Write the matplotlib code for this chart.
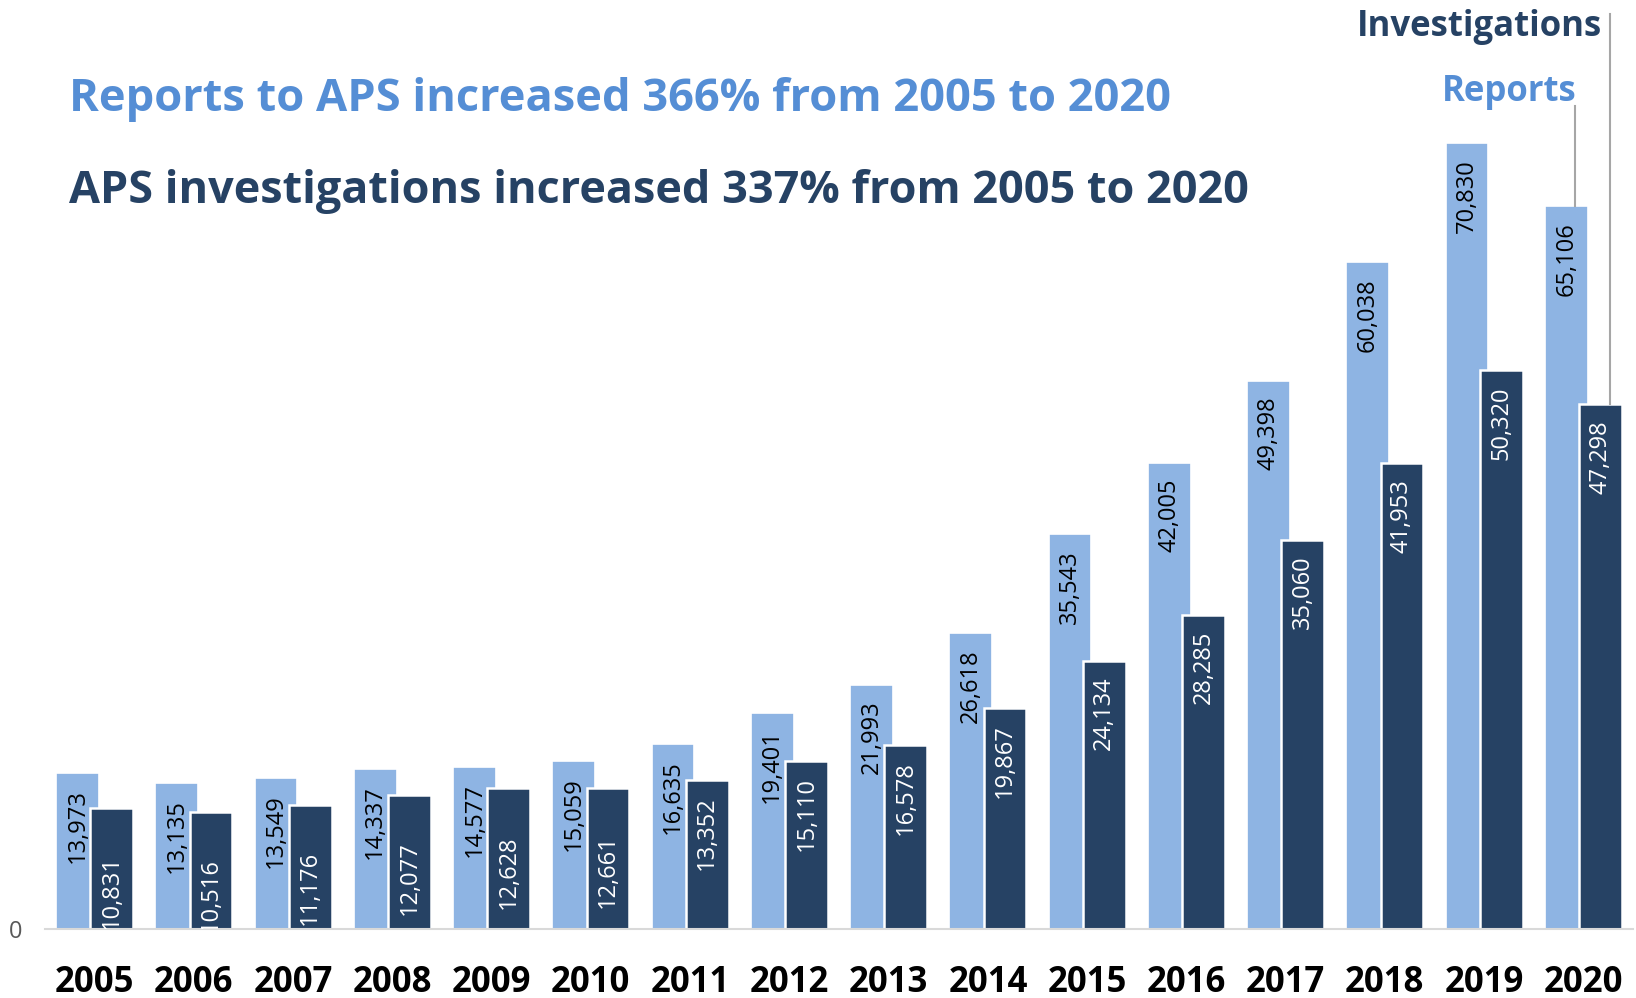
import numpy as np
import matplotlib
matplotlib.use("Agg")
import matplotlib.pyplot as plt

years = ['2005', '2006', '2007', '2008', '2009', '2010', '2011', '2012',
         '2013', '2014', '2015', '2016', '2017', '2018', '2019', '2020']
reports = [13973, 13135, 13549, 14337, 14577, 15059, 16635, 19401,
           21993, 26618, 35543, 42005, 49398, 60038, 70830, 65106]
investigations = [10831, 10516, 11176, 12077, 12628, 12661, 13352, 15110,
                  16578, 19867, 24134, 28285, 35060, 41953, 50320, 47298]

light_blue = '#8EB4E3'
navy = '#264264'
title_blue = '#558ED5'

plt.rcParams['font.family'] = ['Open Sans', 'DejaVu Sans']

fig = plt.figure(figsize=(16.36, 9.98), dpi=100)
ax = fig.add_axes([45 / 1636, 1 - 928.5 / 998, 1588 / 1636, 928.5 / 998])

x = np.arange(len(years))
w = 0.43
off = 0.172
ax.bar(x - off, reports, w, color=light_blue, edgecolor='white', linewidth=1.2, zorder=2)
ax.bar(x + off, investigations, w, color=navy, edgecolor='white', linewidth=1.8, zorder=3)

ax.set_xlim(-0.5, 15.5)
ax.set_ylim(0, 83700)

# value labels, rotated, just inside the top of each bar
pad = 1450
for i in range(len(years)):
    ax.text(x[i] - off, reports[i] - pad, f'{reports[i]:,}', rotation=90,
            ha='center', va='top', fontsize=17, color='black', zorder=5)
    # small investigation bars get their labels pushed lower
    p = 4200 if investigations[i] < 13000 else pad
    ax.text(x[i] + off, investigations[i] - p, f'{investigations[i]:,}', rotation=90,
            ha='center', va='top', fontsize=17, color='white', zorder=5, clip_on=True)

for s in ['top', 'right', 'left']:
    ax.spines[s].set_visible(False)
ax.spines['bottom'].set_color('#D9D9D9')
ax.spines['bottom'].set_linewidth(1.5)
ax.spines['bottom'].set_zorder(4)

ax.set_xticks(x)
ax.set_xticklabels(years, fontsize=25, fontweight='bold', color='black')
ax.tick_params(axis='x', length=0, pad=26)
ax.set_yticks([0])
ax.set_yticklabels(['0'], fontsize=17, color='#595959')
ax.tick_params(axis='y', length=0, pad=16)

# series names with leader lines to the 2020 bars
last = len(years) - 1
ax.plot([x[last] + off + 0.1] * 2, [investigations[last], 82400], color='#A6A6A6',
        linewidth=1.5, clip_on=False, zorder=4)
ax.plot([x[last] - off + 0.09] * 2, [reports[last], 74100], color='#A6A6A6',
        linewidth=1.5, clip_on=False, zorder=4)
ax.text(15.19, 81300, 'Investigations', ha='right', va='center', fontsize=25,
        fontweight='bold', color=navy)
ax.text(14.93, 75400, 'Reports', ha='right', va='center', fontsize=25,
        fontweight='bold', color=title_blue)

fig.text(69 / 1636, 1 - 100 / 998, 'Reports to APS increased 366% from 2005 to 2020',
         ha='left', va='center', fontsize=32.6, fontweight='bold', color=title_blue)
fig.text(69 / 1636, 1 - 192 / 998, 'APS investigations increased 337% from 2005 to 2020',
         ha='left', va='center', fontsize=32.4, fontweight='bold', color=navy)

fig.savefig('out.png', dpi=100)
